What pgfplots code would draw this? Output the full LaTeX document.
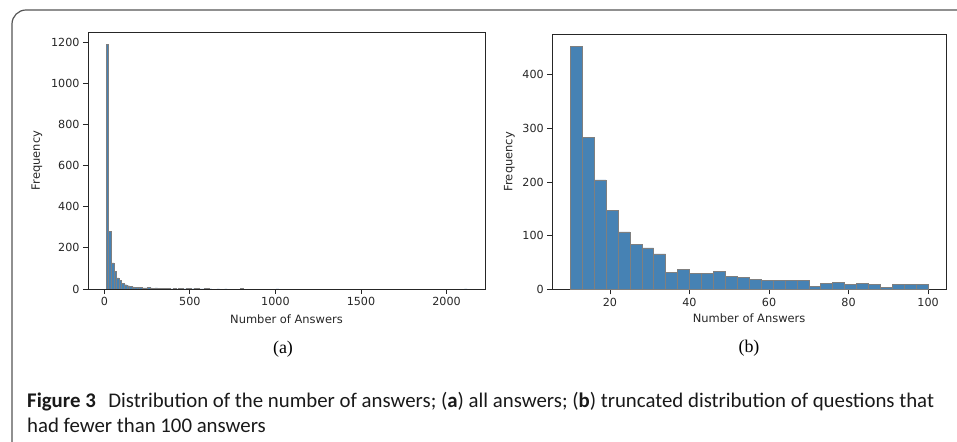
\documentclass[border=0pt]{standalone}
\usepackage{fontspec}
\usepackage{pgfplots}
\pgfplotsset{compat=1.18}
\setmainfont{DejaVu Sans}
\newfontfamily\mplfont{DejaVu Sans}
\newfontfamily\capfont{Carlito}
\newfontfamily\serifx{Liberation Serif}
\definecolor{steel}{HTML}{4682B4}
\definecolor{edgegray}{HTML}{7F7F7F}
\definecolor{framegray}{HTML}{555555}
\pgfplotsset{
  mplstyle/.style={
    scale only axis,
    anchor=south west,
    axis line style={black!85, line width=0.8bp},
    tick style={black!85, line width=0.8bp},
    tick align=outside,
    major tick length=5bp,
    xtick pos=bottom, ytick pos=left,
    ymin=0,
    tick label style={font=\mplfont\fontsize{11.2}{13}\selectfont, text=black!85},
    label style={font=\mplfont\fontsize{11.5}{13}\selectfont, text=black!85},
    /pgf/number format/assume math mode=true,
    /pgf/number format/1000 sep={},
    ybar, bar shift=0pt,
  }
}
\begin{document}
\begin{tikzpicture}
\useasboundingbox (0,0) rectangle (957bp,442bp);
\begin{scope}
\clip (0,0) rectangle (957bp,442bp);
\draw[framegray, line width=1.2bp, rounded corners=14bp] (12bp,-20bp) -- (12bp,432bp) -- (980bp,432bp);
\end{scope}
% (a)
\begin{axis}[mplstyle,
  at={(88bp,153bp)}, width=397bp, height=257bp,
  xmin=-95.5, xmax=2225, ymax=1249.5,
  xtick={0,500,1000,1500,2000}, ytick={0,200,400,600,800,1000,1200},
  bar width=15.07,
  xlabel={Number of Answers}, ylabel={Frequency},
  x label style={at={(axis description cs:0.5,0)}, anchor=center, yshift=-30bp},
  y label style={at={(axis description cs:0,0.5)}, anchor=center, yshift=51bp},
]
\addplot[fill=steel, draw=edgegray, line width=0.3bp] coordinates {
(17.5,1190) (32.6,281) (47.7,127) (62.8,86) (77.8,54) (92.9,42) (108.0,29) (123.0,21) (138.1,16) (153.2,13)
(168.2,10) (183.3,8) (198.4,9) (213.5,9) (228.5,6) (243.6,5) (258.7,7) (273.7,5) (288.8,4) (303.9,5)
(318.9,3) (334.0,4) (349.1,3) (364.2,4) (379.2,2) (394.3,1) (409.4,2) (424.4,1) (439.5,3) (454.6,3)
(469.6,1) (484.7,2) (499.8,3) (514.9,1) (529.9,2) (545.0,2) (560.1,1) (575.1,1) (590.2,2) (605.3,2)
(620.3,1) (665.6,1) (710.8,1) (801.2,2) (1012.2,1) (2112.5,1)
};
\end{axis}
% (b)
\begin{axis}[mplstyle,
  at={(552.3bp,152.7bp)}, width=393.7bp, height=255.3bp,
  xmin=5.5, xmax=104.5, ymax=475.65,
  xtick={20,40,60,80,100}, ytick={0,100,200,300,400},
  bar width=3,
  xlabel={Number of Answers}, ylabel={Frequency},
  x label style={at={(axis description cs:0.5,0)}, anchor=center, yshift=-29bp},
  y label style={at={(axis description cs:0,0.5)}, anchor=center, yshift=43bp},
]
\addplot[fill=steel, draw=edgegray, line width=0.5bp] coordinates {
(11.5,453) (14.5,283) (17.5,204) (20.5,147) (23.5,107) (26.5,83) (29.5,77) (32.5,66) (35.5,31) (38.5,37)
(41.5,29) (44.5,30) (47.5,33) (50.5,24) (53.5,22) (56.5,19) (59.5,17) (62.5,17) (65.5,16) (68.5,16)
(71.5,6) (74.5,11) (77.5,13) (80.5,9) (83.5,11) (86.5,9) (89.5,4) (92.5,9) (95.5,9) (98.5,9)
};
\end{axis}
\node[font=\serifx\fontsize{18}{20}\selectfont, anchor=center] at (283bp,93bp) {(a)};
\node[font=\serifx\fontsize{18}{20}\selectfont, anchor=center] at (749bp,94bp) {(b)};
\node[font=\capfont\fontsize{20.9}{22}\selectfont, anchor=base west, inner sep=0pt, text=black!90] at (27bp,35bp)
  {\textbf{Figure 3}\hspace{0.6em}Distribution of the number of answers; (\textbf{a}) all answers; (\textbf{b}) truncated distribution of questions that};
\node[font=\capfont\fontsize{20.9}{22}\selectfont, anchor=base west, inner sep=0pt, text=black!90] at (27bp,10bp)
  {had fewer than 100 answers};
\end{tikzpicture}
\end{document}
